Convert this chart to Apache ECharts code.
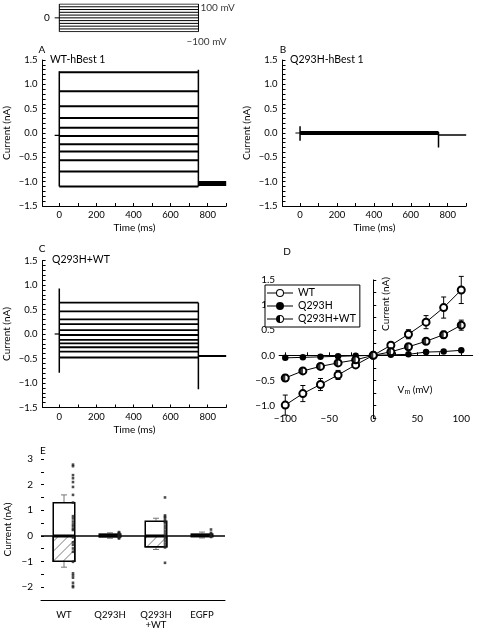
<!DOCTYPE html>
<html><head><meta charset="utf-8">
<script src="https://cdn.jsdelivr.net/npm/echarts@6/dist/echarts.min.js"></script>
<style>html,body{margin:0;padding:0;background:#fff}#c{width:477px;height:630px}</style>
</head><body><div id="c"></div>
<script>
// ---------- data ----------
const protoSteps = [100, 80, 60, 40, 20, 0, -20, -40, -60, -80, -100]; // mV
const protoHold = 0;
const stepOn = 0, stepOff = 750, recEnd = 900, holdStart = -25; // ms

const wtSteps = [1.25, 0.86, 0.55, 0.31, 0.11, -0.06, -0.23, -0.38, -0.56, -0.79, -1.10];
const wtOnJump = [-1.10, 1.27];
const wtOffJump = [-1.10, 1.30];
const wtTail = -1.04;
const wtHold = -0.05;

const mutSteps = [0.00];
const mutOnJump = [-0.16, 0.14];
const mutOffJump = [-0.30, 0.02];
const mutTail = -0.04;
const mutHold = 0.0;

const mixSteps = [0.64, 0.46, 0.30, 0.20, 0.08, -0.02, -0.12, -0.19, -0.27, -0.36, -0.48];
const mixOnJump = [-0.79, 0.93];
const mixOffJump = [-1.13, 0.64];
const mixTail = -0.45;
const mixHold = 0.0;

const ivVm = [-100, -80, -60, -40, -20, 0, 20, 40, 60, 80, 100];
const ivWT = [-0.99, -0.76, -0.58, -0.39, -0.19, 0, 0.20, 0.42, 0.66, 0.95, 1.30];
const ivWTerr = [0.20, 0.16, 0.12, 0.09, 0.03, 0, 0.03, 0.09, 0.13, 0.21, 0.27];
const ivMut = [-0.05, -0.04, -0.03, -0.02, -0.01, 0, 0.01, 0.02, 0.065, 0.075, 0.10];
const ivMix = [-0.45, -0.31, -0.22, -0.15, -0.09, 0, 0.07, 0.17, 0.28, 0.41, 0.60];
const ivMixErr = [0.07, 0.05, 0.04, 0.03, 0.02, 0, 0.02, 0.03, 0.04, 0.07, 0.10];

const eCats = ['WT', 'Q293H', 'Q293H\n+WT', 'EGFP'];
const ePos = [1.32, 0.10, 0.60, 0.10];
const eNeg = [-1.02, -0.07, -0.45, -0.06];
const ePosErr = [0.28, 0.02, 0.09, 0.05];
const eNegErr = [0.20, 0.02, 0.08, 0.02];
const eWTpts = [2.78, 2.72, 2.37, 2.25, 2.10, 1.91, 1.60, 1.30, 0.77, 0.68, 0.56, 0.45, 0.37, 0.27, 0.23,
  -0.06, -0.25, -0.35, -0.49, -0.62, -1.01, -1.46, -1.54, -1.63, -1.83, -1.95, -2.0];
const eMutPts = [0.15, 0.12, 0.10, 0.08, 0.05, 0.03, 0.0, -0.03, -0.05, -0.08, -0.10];
const eMixPts = [1.50, 0.80, 0.75, 0.70, 0.62, 0.55, 0.50, 0.40, 0.30, 0.20, 0.10, 0.0, -0.10, -0.20, -0.30, -0.40, -0.45, -1.05];
const eEgfpPts = [0.25, 0.12, 0.08, 0.04, 0.0, -0.04];

const curTicks = [-1.5, -1.4, -1.3, -1.2, -1.1, -1.0, -0.9, -0.8, -0.7, -0.6, -0.5, -0.4, -0.3, -0.2, -0.1, 0,
  0.1, 0.2, 0.3, 0.4, 0.5, 0.6, 0.7, 0.8, 0.9, 1.0, 1.1, 1.2, 1.3, 1.4, 1.5];

// ---------- helpers ----------
const FONT = 'Lato';
const minus = s => String(s).replace('-', '\u2212');
function seg(gi, pts, w, extra) {
  return Object.assign({type: 'line', xAxisIndex: gi, yAxisIndex: gi, data: pts, symbol: 'none', silent: true,
    lineStyle: {color: '#000', width: w}, z: 3}, extra || {});
}
function traceSeries(gi, steps, onJ, offJ, tail, hold, w, tailW) {
  const out = steps.map(v => seg(gi, [[stepOn, v], [stepOff, v]], w));
  out.push(seg(gi, [[stepOn, onJ[0]], [stepOn, onJ[1]]], 1.5));
  out.push(seg(gi, [[stepOff, offJ[0]], [stepOff, offJ[1]]], 1.5));
  out.push(seg(gi, [[stepOff, tail], [recEnd, tail]], tailW));
  out.push(seg(gi, [[holdStart, hold], [stepOn, hold]], 1.2));
  return out;
}
function errRender(cap, color) {
  return function (params, api) {
    const x = api.value(0), y = api.value(1), e = api.value(2);
    const a = api.coord([x, y + e]), b = api.coord([x, y - e]);
    const st = {stroke: color, lineWidth: 1};
    return {type: 'group', children: [
      {type: 'line', shape: {x1: a[0], y1: a[1], x2: b[0], y2: b[1]}, style: st},
      {type: 'line', shape: {x1: a[0] - cap, y1: a[1], x2: a[0] + cap, y2: a[1]}, style: st},
      {type: 'line', shape: {x1: b[0] - cap, y1: b[1], x2: b[0] + cap, y2: b[1]}, style: st}
    ]};
  };
}
function oneErrRender(cap, color) {
  return function (params, api) {
    const x = api.value(0), y = api.value(1), e = api.value(2);
    const a = api.coord([x, y]), b = api.coord([x, y + e]);
    const st = {stroke: color, lineWidth: 1};
    return {type: 'group', children: [
      {type: 'line', shape: {x1: a[0], y1: a[1], x2: b[0], y2: b[1]}, style: st},
      {type: 'line', shape: {x1: b[0] - cap, y1: b[1], x2: b[0] + cap, y2: b[1]}, style: st}
    ]};
  };
}

const axLine = {lineStyle: {color: '#000', width: 1}};
const lbl = {color: '#000', fontSize: 9.5, fontFamily: FONT};
function timeX(gi, min) {
  return {gridIndex: gi, type: 'value', min: min, max: recEnd,
    axisLine: Object.assign({onZero: false}, axLine),
    axisTick: {show: true, inside: true, length: 3, customValues: [0, 100, 200, 300, 400, 500, 600, 700, 800, 900], lineStyle: {color: '#000'}},
    axisLabel: Object.assign({customValues: [0, 200, 400, 600, 800], margin: 4}, lbl),
    splitLine: {show: false},
    name: 'Time (ms)', nameLocation: 'middle', nameGap: 17,
    nameTextStyle: {fontSize: 10, fontFamily: FONT, color: '#000'}};
}
function curY(gi) {
  return {gridIndex: gi, type: 'value', min: -1.5, max: 1.5,
    axisLine: Object.assign({onZero: false}, axLine),
    axisTick: {show: true, inside: true, length: 3, customValues: curTicks, lineStyle: {color: '#000'}},
    axisLabel: Object.assign({margin: 5, customValues: [-1.5, -1, -0.5, 0, 0.5, 1, 1.5], formatter: v => minus(v.toFixed(1))}, lbl),
    splitLine: {show: false},
    name: 'Current (nA)', nameLocation: 'middle', nameGap: 31,
    nameTextStyle: {fontSize: 10, fontFamily: FONT, color: '#000'}};
}

// legend icon paths (260 x 80 box)
const P_LINES = 'M0,35L92,35L92,45L0,45Z M168,35L260,35L260,45L168,45Z ';
const P_OUT = 'M90,40A40,40,0,1,1,170,40A40,40,0,1,1,90,40Z ';
const P_IN = 'M100,40A30,30,0,1,0,160,40A30,30,0,1,0,100,40Z ';
const P_HALF = 'M130,10A30,30,0,0,0,130,70Z';
const iconWT = 'path://' + P_LINES + P_OUT + P_IN;
const iconMut = 'path://' + P_LINES + P_OUT;
const iconMix = 'path://' + P_LINES + P_OUT + P_IN + P_HALF;

const hatch = {symbol: 'rect', symbolSize: 1, dashArrayX: [[1, 0]], dashArrayY: [1, 6], rotation: -Math.PI / 4,
  color: '#999', backgroundColor: '#fff'};

const series = [];
// protocol
protoSteps.forEach(v => series.push(seg(0, [[stepOn, v], [stepOff, v]], 1, {z: 2})));
series.push(seg(0, [[stepOn, protoSteps[protoSteps.length - 1]], [stepOn, protoSteps[0]]], 1));
series.push(seg(0, [[stepOff, protoSteps[protoSteps.length - 1]], [stepOff, protoSteps[0]]], 1));
series.push(seg(0, [[holdStart, protoHold], [stepOn, protoHold]], 1));
series.push({type: 'scatter', xAxisIndex: 0, yAxisIndex: 0, symbolSize: 0, silent: true,
  data: [[stepOff, protoSteps[0]], [stepOff, protoSteps[protoSteps.length - 1]]],
  label: {show: true, fontSize: 10, fontFamily: FONT, color: '#000',
    formatter: p => minus(p.value[1]) + ' mV',
    position: 'right', distance: 2},
  labelLayout: p => p.dataIndex === 1 ? {dx: -14, dy: 10} : {dx: 0, dy: 4}
});

series.push(...traceSeries(1, wtSteps, wtOnJump, wtOffJump, wtTail, wtHold, 2, 5));
series.push(...traceSeries(2, mutSteps, mutOnJump, mutOffJump, mutTail, mutHold, 4, 1.5));
series.push(...traceSeries(3, mixSteps, mixOnJump, mixOffJump, mixTail, mixHold, 1.8, 2));

// IV panel
series.push({type: 'custom', xAxisIndex: 4, yAxisIndex: 4, silent: true, z: 4,
  data: ivVm.map((v, i) => [v, ivWT[i], ivWTerr[i]]).filter(d => d[2] > 0.025), renderItem: errRender(2.5, '#000')});
series.push({type: 'custom', xAxisIndex: 4, yAxisIndex: 4, silent: true, z: 4,
  data: ivVm.map((v, i) => [v, ivMix[i], ivMixErr[i]]).filter(d => d[2] > 0.025), renderItem: errRender(2.5, '#000')});
series.push({name: 'WT', type: 'line', xAxisIndex: 4, yAxisIndex: 4, data: ivVm.map((v, i) => [v, ivWT[i]]),
  symbol: 'emptyCircle', symbolSize: 7, lineStyle: {color: '#000', width: 1},
  itemStyle: {color: '#000', borderWidth: 1}, z: 5});
series.push({name: 'Q293H', type: 'line', xAxisIndex: 4, yAxisIndex: 4, data: ivVm.map((v, i) => [v, ivMut[i]]),
  symbol: 'circle', symbolSize: 6.5, lineStyle: {color: '#000', width: 1},
  itemStyle: {color: '#000'}, z: 5});
series.push({name: 'Q293H+WT', type: 'line', xAxisIndex: 4, yAxisIndex: 4, data: ivVm.map((v, i) => [v, ivMix[i]]),
  symbol: 'emptyCircle', symbolSize: 7, lineStyle: {color: '#000', width: 1},
  itemStyle: {color: '#000', borderWidth: 1}, z: 5});
series.push({type: 'scatter', xAxisIndex: 4, yAxisIndex: 4, data: ivVm.map((v, i) => [v, ivMix[i]]),
  symbol: 'path://M10,0A10,10,0,0,0,10,20Z', symbolSize: [3.3, 6.6], symbolOffset: [-1.6, 0],
  itemStyle: {color: '#000'}, silent: true, z: 6});

// Bar panel E
series.push({type: 'bar', xAxisIndex: 5, yAxisIndex: 5, barWidth: 23, barGap: '-100%',
  data: ePos.map((v, i) => ({value: v, itemStyle: i === 1 ? {color: '#aaa'} : {}})),
  itemStyle: {color: '#fff', borderColor: '#000', borderWidth: 1.5}, silent: true, z: 2,
  markLine: {symbol: 'none', silent: true, label: {show: false}, data: [{yAxis: 0}],
    lineStyle: {color: '#000', type: 'solid', width: 1.5}}});
series.push({type: 'bar', xAxisIndex: 5, yAxisIndex: 5, barWidth: 23,
  data: eNeg.map((v, i) => ({value: v, itemStyle: i === 1 ? {color: '#aaa'} : (i === 3 ? {} : {decal: hatch})})),
  itemStyle: {color: '#fff', borderColor: '#000', borderWidth: 1.5}, silent: true, z: 2});
series.push({type: 'custom', xAxisIndex: 5, yAxisIndex: 5, silent: true, z: 1,
  data: ePos.map((v, i) => [i, v, ePosErr[i]]).concat(eNeg.map((v, i) => [i, v, -eNegErr[i]])),
  renderItem: oneErrRender(3, '#777')});
const ePts = [eWTpts, eMutPts, eMixPts, eEgfpPts];
series.push({type: 'scatter', xAxisIndex: 5, yAxisIndex: 5, silent: true, z: 5,
  data: [].concat(...ePts.map((arr, i) => arr.map(v => [i, v]))),
  symbol: 'rect', symbolSize: 2.6, symbolOffset: [9, 0], itemStyle: {color: '#222'}});

const option = {
  animation: false,
  backgroundColor: '#fff',
  textStyle: {fontFamily: FONT, color: '#000'},
  grid: [
    {left: 51.9, top: 4, width: 174.4, height: 27.7},
    {left: 42.6, top: 60, width: 183.6, height: 146},
    {left: 282.5, top: 60, width: 183.7, height: 146},
    {left: 42.6, top: 260.5, width: 183.6, height: 147},
    {left: 279.1, top: 279.9, width: 193.6, height: 138.3},
    {left: 41, top: 459, width: 184, height: 148.5}
  ],
  xAxis: [
    {gridIndex: 0, type: 'value', min: -40, max: recEnd, show: false},
    timeX(1, -90), timeX(2, -95), timeX(3, -90),
    {gridIndex: 4, type: 'value', min: -107, max: 113,
      axisLine: Object.assign({onZero: true}, axLine),
      axisTick: {show: true, inside: true, length: 3, customValues: [-100, -75, -50, -25, 25, 50, 75, 100], lineStyle: {color: '#000'}},
      axisLabel: Object.assign({customValues: [-100, -50, 0, 50, 100], margin: -4, formatter: v => minus(v)}, lbl, {fontSize: 10}),
      splitLine: {show: false}},
    {gridIndex: 5, type: 'category', data: eCats,
      axisLine: Object.assign({onZero: false}, axLine), axisTick: {show: false},
      axisLabel: Object.assign({interval: 0, margin: 10, lineHeight: 10}, lbl)}
  ],
  yAxis: [
    {gridIndex: 0, type: 'value', min: -100, max: 100, axisLine: {show: false}, axisTick: {show: false},
      splitLine: {show: false}, axisLabel: Object.assign({customValues: [0], margin: 2}, lbl, {fontSize: 10})},
    curY(1), curY(2), curY(3),
    {gridIndex: 4, type: 'value', min: -1.25, max: 1.5,
      axisLine: Object.assign({onZero: true}, axLine),
      axisTick: {show: true, inside: true, length: 3, customValues: [-1.25, -1, -0.75, -0.5, -0.25, 0.25, 0.5, 0.75, 1, 1.25, 1.5], lineStyle: {color: '#000'}},
      axisLabel: Object.assign({customValues: [-1, -0.5, 0, 0.5, 1, 1.5], margin: 4, formatter: v => minus(v.toFixed(1))}, lbl, {fontSize: 10}),
      splitLine: {show: false}},
    {gridIndex: 5, type: 'value', min: -2.5, max: 3,
      axisLine: Object.assign({onZero: false}, axLine),
      axisTick: {show: true, inside: true, length: 3, customValues: [-2.5, -2, -1.5, -1, -0.5, 0, 0.5, 1, 1.5, 2, 2.5, 3], lineStyle: {color: '#000'}},
      axisLabel: Object.assign({customValues: [-2, -1, 0, 1, 2, 3], margin: 8, formatter: v => minus(v)}, lbl, {fontSize: 10}),
      splitLine: {show: false},
      name: 'Current (nA)', nameLocation: 'middle', nameGap: 28,
      nameTextStyle: {fontSize: 10, fontFamily: FONT, color: '#000'}}
  ],
  legend: {
    left: 265, top: 285, orient: 'vertical', backgroundColor: '#fff',
    borderColor: '#000', borderWidth: 1, borderRadius: 0, padding: [2, 4, 2, 2],
    itemGap: 1, itemWidth: 26, itemHeight: 8, selectedMode: false,
    itemStyle: {borderWidth: 0},
    textStyle: {fontSize: 10.5, fontFamily: FONT, color: '#000', lineHeight: 12},
    data: [{name: 'WT', icon: iconWT}, {name: 'Q293H', icon: iconMut}, {name: 'Q293H+WT', icon: iconMix}]
  },
  graphic: [
    {type: 'text', x: 42, y: 50, style: {text: 'A', fontSize: 10, fontFamily: FONT, fill: '#000', align: 'center', verticalAlign: 'middle'}},
    {type: 'text', x: 50, y: 60, style: {text: 'WT-hBest 1', fontSize: 10.5, fontFamily: FONT, fill: '#000', align: 'left', verticalAlign: 'middle'}},
    {type: 'text', x: 283, y: 50, style: {text: 'B', fontSize: 10, fontFamily: FONT, fill: '#000', align: 'center', verticalAlign: 'middle'}},
    {type: 'text', x: 290, y: 60, style: {text: 'Q293H-hBest 1', fontSize: 10.5, fontFamily: FONT, fill: '#000', align: 'left', verticalAlign: 'middle'}},
    {type: 'text', x: 42, y: 249, style: {text: 'C', fontSize: 10, fontFamily: FONT, fill: '#000', align: 'center', verticalAlign: 'middle'}},
    {type: 'text', x: 52, y: 260, style: {text: 'Q293H+WT', fontSize: 10.5, fontFamily: FONT, fill: '#000', align: 'left', verticalAlign: 'middle'}},
    {type: 'text', x: 287, y: 252, style: {text: 'D', fontSize: 10, fontFamily: FONT, fill: '#000', align: 'center', verticalAlign: 'middle'}},
    {type: 'text', x: 43, y: 451, style: {text: 'E', fontSize: 10, fontFamily: FONT, fill: '#000', align: 'center', verticalAlign: 'middle'}},
    {type: 'text', x: 386, y: 304, rotation: Math.PI / 2, style: {text: 'Current (nA)', fontSize: 10, fontFamily: FONT, fill: '#000', align: 'center', verticalAlign: 'middle'}},
    {type: 'text', x: 415, y: 390, style: {text: 'V{s|m} (mV)', fontSize: 10, fontFamily: FONT, fill: '#000', align: 'center', verticalAlign: 'middle',
      rich: {s: {fontSize: 7, fontFamily: FONT, verticalAlign: 'bottom', padding: [4, 0, 0, 0]}}}}
  ],
  series: series
};
const chart = echarts.init(document.getElementById('c'), null, {renderer: 'canvas'});
chart.setOption(option);
</script></body></html>
